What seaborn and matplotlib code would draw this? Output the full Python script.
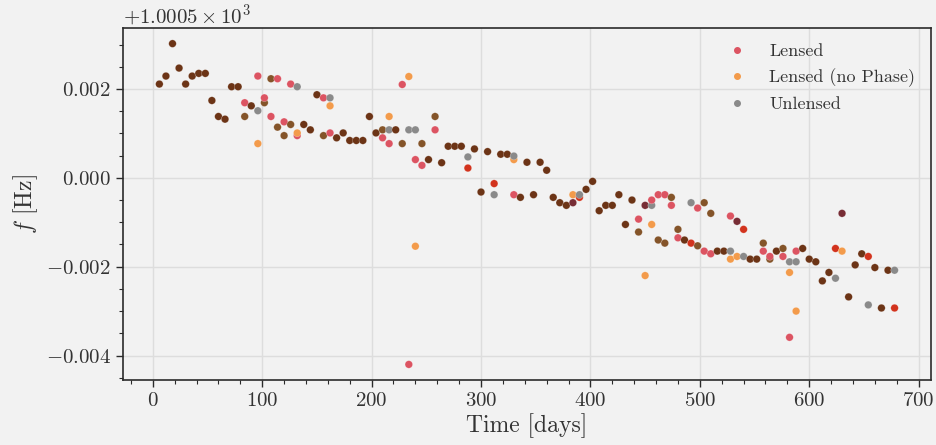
import numpy as np
import pandas as pd
import matplotlib
matplotlib.use("Agg")
import matplotlib.pyplot as plt
import seaborn as sns
from matplotlib.ticker import ScalarFormatter, AutoMinorLocator, MultipleLocator
from matplotlib.lines import Line2D
from matplotlib.colors import to_rgb

# ---------------- data ----------------
days = [6, 12, 18, 24, 30, 36, 42, 48, 54, 60, 66, 72, 78, 84, 90, 96, 102, 108, 114, 120,
        126, 132, 138, 144, 150, 156, 162, 168, 174, 180, 186, 192, 198, 204, 210, 216, 222, 228, 234, 240,
        246, 252, 258, 264, 270, 276, 282, 288, 294, 300, 306, 312, 318, 324, 330, 336, 342, 348, 354, 360,
        366, 372, 378, 384, 390, 396, 402, 408, 414, 420, 426, 432, 438, 444, 450, 456, 462, 468, 474, 480,
        486, 492, 498, 504, 510, 516, 522, 528, 534, 540, 546, 552, 558, 564, 570, 576, 582, 588, 594, 600,
        606, 612, 618, 624, 630, 636, 642, 648, 654, 660, 666, 672, 678]

F_REF = 1000.5  # Hz, offset shown on the axis

# deviations from F_REF in mHz
lensed_mhz = [2.11, 2.29, 3.02, 2.47, 2.11, 2.29, 2.35, 2.35, 1.74, 1.38,
              1.32, 2.05, 2.05, 1.69, 1.62, 2.29, 1.80, 1.38, 2.23, 1.26,
              2.11, 0.95, 1.20, 1.08, 1.87, 1.80, 1.01, 0.90, 1.01, 0.84,
              0.84, 0.84, 1.38, 1.01, 0.90, 0.77, 1.08, 2.10, -4.20, 0.41,
              0.28, 0.41, 1.08, 0.34, 0.71, 0.71, 0.71, 0.22, 0.65, -0.32,
              0.59, -0.13, 0.53, 0.53, -0.38, -0.44, 0.35, -0.38, 0.35, 0.17,
              -0.44, -0.56, -0.62, -0.56, -0.44, -0.26, -0.08, -0.74, -0.62, -0.62,
              -0.38, -1.05, -0.50, -0.93, -0.62, -0.50, -0.38, -0.38, -0.62, -1.35,
              -1.40, -1.47, -0.68, -1.65, -1.71, -1.65, -1.65, -0.86, -0.98, -1.16,
              -1.83, -1.83, -1.65, -1.77, -1.65, -1.77, -3.59, -1.65, -1.59, -1.83,
              -1.89, -2.32, -2.13, -1.59, -0.80, -2.68, -1.96, -1.71, -1.77, -2.02,
              -2.93, -2.08, -2.93]

nophase_mhz = [2.11, 2.29, 3.02, 2.47, 2.11, 2.29, 2.35, 2.35, 1.74, 1.38,
               1.32, 2.05, 2.05, 1.38, 1.62, 0.77, 1.69, 2.23, 1.14, 0.95,
               1.20, 1.01, 1.20, 1.08, 1.87, 0.95, 1.62, 0.90, 1.01, 0.84,
               0.84, 0.84, 1.38, 1.01, 1.08, 1.38, 1.08, 0.77, 2.28, -1.54,
               0.77, 0.41, 1.38, 0.34, 0.71, 0.71, 0.71, 0.22, 0.65, -0.32,
               0.59, -0.13, 0.53, 0.53, 0.41, -0.44, 0.35, -0.38, 0.35, 0.17,
               -0.44, -0.56, -0.62, -0.38, -0.44, -0.26, -0.08, -0.74, -0.62, -0.62,
               -0.38, -1.05, -0.50, -1.22, -2.20, -1.05, -1.40, -1.47, -0.44, -1.16,
               -1.40, -1.47, -1.53, -0.56, -0.80, -1.65, -1.65, -1.83, -1.77, -1.16,
               -1.83, -1.83, -1.47, -1.83, -1.65, -1.59, -2.13, -3.00, -1.59, -1.83,
               -1.89, -2.32, -2.13, -1.59, -1.65, -2.68, -1.96, -1.71, -1.77, -2.02,
               -2.93, -2.08, -2.93]

unlensed_mhz = [2.11, 2.29, 3.02, 2.47, 2.11, 2.29, 2.35, 2.35, 1.74, 1.38,
                1.32, 2.05, 2.05, 1.38, 1.62, 1.51, 1.69, 2.23, 1.14, 0.95,
                1.20, 2.05, 1.20, 1.08, 1.87, 0.95, 1.80, 0.90, 1.01, 0.84,
                0.84, 0.84, 1.38, 1.01, 1.08, 1.08, 1.08, 0.77, 1.08, 1.08,
                0.77, 0.41, 1.38, 0.34, 0.71, 0.71, 0.71, 0.47, 0.65, -0.32,
                0.59, -0.38, 0.53, 0.53, 0.49, -0.44, 0.35, -0.38, 0.35, 0.17,
                -0.44, -0.56, -0.62, -0.56, -0.38, -0.26, -0.08, -0.74, -0.62, -0.62,
                -0.38, -1.05, -0.50, -1.22, -0.62, -0.62, -1.40, -1.47, -0.44, -1.16,
                -1.40, -0.56, -1.53, -0.56, -0.80, -1.65, -1.65, -1.65, -0.98, -1.77,
                -1.83, -1.83, -1.47, -1.83, -1.65, -1.59, -1.89, -1.89, -1.59, -1.83,
                -1.89, -2.32, -2.13, -2.26, -0.80, -2.68, -1.96, -1.71, -2.86, -2.02,
                -2.93, -2.08, -2.08]

series_names = ["Lensed", "Lensed (no Phase)", "Unlensed"]
series_colors = {"Lensed": "#dc5462", "Lensed (no Phase)": "#f39b4b", "Unlensed": "#8a8a8a"}
# look of points where all three series coincide
ALL_THREE_COLOR = "#6c3416"

BG = "#f2f2f2"

# ---------------- style ----------------
sns.set_theme(style="whitegrid")
plt.rcParams.update({
    "font.family": "serif",
    "font.serif": ["cmr10", "DejaVu Serif"],
    "mathtext.fontset": "cm",
    "axes.formatter.use_mathtext": True,
    "axes.unicode_minus": True,
    "figure.facecolor": BG,
    "axes.facecolor": BG,
    "axes.edgecolor": "#2b2b2b",
    "axes.linewidth": 1.2,
    "grid.color": "#dddddd",
    "grid.linewidth": 1.0,
})

# ---------------- long table; coincident points look darker ----------------
frames = []
for name, vals in zip(series_names, [lensed_mhz, nophase_mhz, unlensed_mhz]):
    frames.append(pd.DataFrame({"day": days, "dev": vals, "series": name}))
long_df = pd.concat(frames, ignore_index=True)

pts = (long_df.groupby(["day", "dev"])["series"]
       .apply(lambda s: " + ".join(sorted(s, key=series_names.index)))
       .reset_index(name="members"))
pts["f"] = F_REF + pts["dev"] * 1e-3

palette = {}
for m in pts["members"].unique():
    names = m.split(" + ")
    if len(names) == 3:
        palette[m] = ALL_THREE_COLOR
        continue
    rgb = np.ones(3)
    for name in names:
        rgb = rgb * np.array(to_rgb(series_colors[name]))
    palette[m] = tuple(rgb)

# ---------------- figure ----------------
fig, ax = plt.subplots(figsize=(9.36, 4.45), dpi=100)
fig.subplots_adjust(left=0.131, right=0.995, top=0.938, bottom=0.145)

sns.scatterplot(data=pts, x="day", y="f", hue="members", palette=palette,
                s=30, linewidth=0.4, edgecolor=(1, 1, 1, 0.4),
                legend=False, ax=ax, zorder=3)

fmt = ScalarFormatter(useOffset=F_REF, useMathText=True)
ax.yaxis.set_major_formatter(fmt)
ax.yaxis.set_major_locator(MultipleLocator(0.002))
ax.yaxis.set_minor_locator(AutoMinorLocator(4))
ax.xaxis.set_major_locator(MultipleLocator(100))
ax.xaxis.set_minor_locator(AutoMinorLocator())

ax.tick_params(which="both", direction="out", bottom=True, left=True,
               top=False, right=False, colors="#2b2b2b", labelcolor="#333333")
ax.tick_params(which="major", length=5, width=1.0, labelsize=15)
ax.tick_params(which="minor", length=3, width=0.8)
ax.yaxis.get_offset_text().set_fontsize(15)
ax.yaxis.get_offset_text().set_color("#333333")

ax.grid(True, which="major", zorder=0)
ax.set_axisbelow(True)
for sp in ax.spines.values():
    sp.set_visible(True)
    sp.set_color("#2b2b2b")

ax.set_xlabel("Time [days]", fontsize=17, color="#333333", labelpad=2)
ax.set_ylabel(r"$f$ [Hz]", fontsize=17, color="#333333")

handles = [Line2D([], [], marker="o", linestyle="", color=series_colors[n],
                  markersize=4, label=n) for n in series_names]
ax.legend(handles=handles, loc="upper right", frameon=False, fontsize=13,
          labelcolor="#333333")

fig.savefig("out.png", dpi=100, facecolor=BG)
